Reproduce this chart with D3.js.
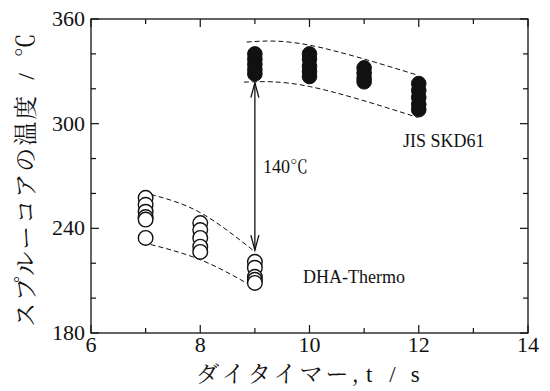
<!DOCTYPE html>
<html>
<head>
<meta charset="utf-8">
<script src="https://cdn.jsdelivr.net/npm/d3@7"></script>
<style>
body { margin: 0; background: #fff; }
text { font-family: "Liberation Serif", "DejaVu Serif", serif; }
</style>
</head>
<body>
<div id="chart"></div>
<script>
// DHA-Thermo (open circles)
const dhaX = [7, 7, 7, 7, 7, 7, 8, 8, 8, 8, 8, 9, 9, 9, 9, 9];
const dhaY = [257.5, 253.5, 249.5, 246.5, 245, 234.5, 243, 239, 234.5, 229.5, 226.5, 220.8, 217.4, 212.2, 210.5, 208.7];
// JIS SKD61 (filled circles)
const jisX = [9, 9, 9, 9, 9, 10, 10, 10, 10, 10, 11, 11, 11, 11, 12, 12, 12, 12, 12];
const jisY = [340, 337, 334, 331, 328.5, 340, 337, 333, 330, 327, 332, 329, 326, 324, 323, 319, 315, 311, 308];
// dashed envelope curves
const dhaUpper = [[7.1, 259.4], [8, 249], [9, 226.6]];
const dhaLower = [[6.95, 231.8], [8, 222], [9, 205.9]];
const jisUpper = [[8.85, 346.8], [10, 345], [11.98, 327.8]];
const jisLower = [[8.8, 323.8], [10, 321.3], [11.98, 303.6]];
// arrow between series at t = 9
const arrowX = 9, arrowTop = 323.5, arrowBottom = 227.5;

const xTicks = [6, 8, 10, 12, 14];
const yTicks = [180, 240, 300, 360];

const width = 550, height = 391;
const margin = {top: 19, right: 22, bottom: 58, left: 91};

const svg = d3.select("#chart").append("svg")
  .attr("width", width).attr("height", height);

const x = d3.scaleLinear().domain([6, 14]).range([margin.left, width - margin.right]);
const y = d3.scaleLinear().domain([180, 360]).range([height - margin.bottom, margin.top]);

const g = svg.append("g");
const stroke = "#111";
const cjk = "'Noto Serif CJK JP', 'Noto Sans CJK JP', serif";

// frame
g.append("rect")
  .attr("x", x(6)).attr("y", y(360))
  .attr("width", x(14) - x(6)).attr("height", y(180) - y(360))
  .attr("fill", "none").attr("stroke", stroke).attr("stroke-width", 1.3);

// ticks (inward)
const xMinor = d3.range(6, 14.01, 1);
const yMinor = d3.range(180, 360.01, 20);
xMinor.forEach(v => {
  const len = v % 2 === 0 ? 8 : 5;
  g.append("line").attr("x1", x(v)).attr("x2", x(v))
    .attr("y1", y(180)).attr("y2", y(180) - len).attr("stroke", stroke).attr("stroke-width", 1.2);
  g.append("line").attr("x1", x(v)).attr("x2", x(v))
    .attr("y1", y(360)).attr("y2", y(360) + len).attr("stroke", stroke).attr("stroke-width", 1.2);
});
yMinor.forEach(v => {
  const len = (v - 180) % 60 === 0 ? 8 : 5;
  g.append("line").attr("y1", y(v)).attr("y2", y(v))
    .attr("x1", x(6)).attr("x2", x(6) + len).attr("stroke", stroke).attr("stroke-width", 1.2);
  g.append("line").attr("y1", y(v)).attr("y2", y(v))
    .attr("x1", x(14)).attr("x2", x(14) - len).attr("stroke", stroke).attr("stroke-width", 1.2);
});

// tick labels
g.selectAll(".xl").data(xTicks).join("text")
  .attr("x", d => x(d)).attr("y", y(180) + 19)
  .attr("text-anchor", "middle").attr("font-size", 22).attr("fill", stroke)
  .text(d => d);
g.selectAll(".yl").data(yTicks).join("text")
  .attr("x", x(6) - 6).attr("y", d => y(d) + 7)
  .attr("text-anchor", "end").attr("font-size", 22).attr("fill", stroke)
  .text(d => d);

// axis titles
const xt = g.append("text")
  .attr("x", x(10)).attr("y", height - 9)
  .attr("text-anchor", "middle").attr("font-size", 23).attr("fill", stroke)
  .style("font-family", cjk).style("letter-spacing", "3px");
xt.append("tspan").text("ダイタイマー,");
xt.append("tspan").style("font-family", "'Liberation Serif', serif").attr("dx", 4).text("t");
xt.append("tspan").style("font-family", "'Liberation Serif', serif").attr("dx", 14).text("/");
xt.append("tspan").style("font-family", "'Liberation Serif', serif").attr("dx", 12).text("s");

const yt = g.append("text")
  .attr("transform", `translate(34, ${(y(180) + y(360)) / 2 + 3}) rotate(-90)`)
  .attr("text-anchor", "middle").attr("font-size", 24).attr("fill", stroke)
  .style("font-family", cjk).style("letter-spacing", "2px");
yt.append("tspan").text("スプルーコアの温度");
yt.append("tspan").style("font-family", "'Liberation Serif', serif").attr("dx", 14).text("/");
yt.append("tspan").attr("dx", 14).text("℃");

// dashed curves
const line = d3.line().x(d => x(d[0])).y(d => y(d[1])).curve(d3.curveNatural);
[dhaUpper, dhaLower, jisUpper, jisLower].forEach(c => {
  g.append("path").attr("d", line(c))
    .attr("fill", "none").attr("stroke", stroke).attr("stroke-width", 1)
    .attr("stroke-dasharray", "5,3");
});

// points
const r = 7.3;
g.selectAll(".dha").data(d3.zip(dhaX, dhaY)).join("circle")
  .attr("cx", d => x(d[0])).attr("cy", d => y(d[1])).attr("r", r)
  .attr("fill", "#fff").attr("stroke", stroke).attr("stroke-width", 1.4);
g.selectAll(".jis").data(d3.zip(jisX, jisY)).join("circle")
  .attr("cx", d => x(d[0])).attr("cy", d => y(d[1])).attr("r", r)
  .attr("fill", stroke).attr("stroke", stroke).attr("stroke-width", 1);

// double arrow
const ax = x(arrowX), aTop = y(arrowTop), aBot = y(arrowBottom);
g.append("line").attr("x1", ax).attr("x2", ax).attr("y1", aTop).attr("y2", aBot)
  .attr("stroke", stroke).attr("stroke-width", 1.3);
g.append("path").attr("d", `M${ax - 4},${aTop + 15}L${ax},${aTop}L${ax + 4},${aTop + 15}`)
  .attr("fill", "none").attr("stroke", stroke).attr("stroke-width", 1.3);
g.append("path").attr("d", `M${ax - 4},${aBot - 15}L${ax},${aBot}L${ax + 4},${aBot - 15}`)
  .attr("fill", "none").attr("stroke", stroke).attr("stroke-width", 1.3);

// annotations
const t140 = g.append("text").attr("x", ax + 8).attr("y", 173).attr("font-size", 18).attr("fill", stroke);
t140.append("tspan").text("140");
t140.append("tspan").style("font-family", cjk).text("℃");
g.append("text").attr("x", 403).attr("y", 147).attr("font-size", 18).attr("fill", stroke)
  .text("JIS SKD61");
g.append("text").attr("x", 303).attr("y", 283).attr("font-size", 18).attr("fill", stroke)
  .text("DHA-Thermo");
</script>
</body>
</html>
